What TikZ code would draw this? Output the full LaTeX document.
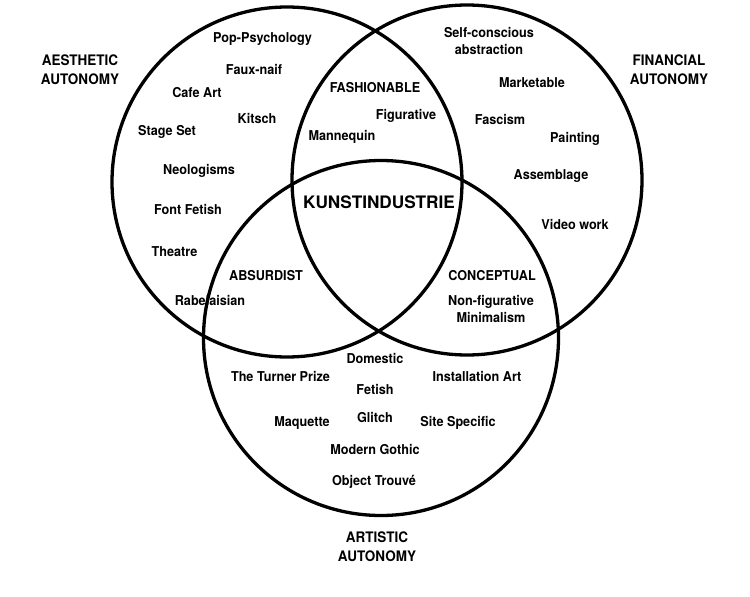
\documentclass[tikz,border=0pt]{standalone}
\usepackage{fontspec}
\setmainfont{TeX Gyre Heros}
\newfontfamily\narrowheros[FakeStretch=0.93]{TeX Gyre Heros}
\begin{document}
\begin{tikzpicture}[x=1pt,y=-1pt,
  ring/.style={draw=black,line width=3.3pt},
  lbl/.style={font=\narrowheros\bfseries\fontsize{13.6}{17}\selectfont,align=center,inner sep=0pt,text=black},
  big/.style={font=\bfseries\fontsize{17.2}{20}\selectfont,inner sep=0pt,text=black},
  axis/.style={font=\narrowheros\bfseries\fontsize{14.5}{19}\selectfont,align=center,inner sep=0pt,text=black}]
\useasboundingbox (0,0) rectangle (750,597);
\fill[white] (0,0) rectangle (750,597);
% circles
\node[ring,circle,minimum size=350pt,inner sep=0pt] (aes) at (287,182) {};
\node[ring,circle,minimum size=350pt,inner sep=0pt] (fin) at (467,180) {};
\node[ring,circle,minimum size=355pt,inner sep=0pt] (art) at (381,338) {};
% axis labels
\node[axis] (aesl) at (80,69.5) {AESTHETIC\\AUTONOMY};
\node[axis] (finl) at (669,69.5) {FINANCIAL\\AUTONOMY};
\node[axis] (artl) at (377,546.5) {ARTISTIC\\AUTONOMY};
% aesthetic
\node[lbl] (pop) at (262.5,39) {Pop-Psychology};
\node[lbl] (faux) at (254,69) {Faux-naif};
\node[lbl] (cafe) at (197,93) {Cafe Art};
\node[lbl] (kitsch) at (257,118) {Kitsch};
\node[lbl] (stage) at (167,132) {Stage Set};
\node[lbl] (neo) at (199,171) {Neologisms};
\node[lbl] (font) at (188,209) {Font Fetish};
\node[lbl] (theatre) at (174.5,252) {Theatre};
\node[lbl] (rab) at (210,300) {Rabelaisian};
% financial
\node[lbl] (self) at (489,40.5) {Self-conscious\\abstraction};
\node[lbl] (market) at (532,83) {Marketable};
\node[lbl] (fasc) at (500,119) {Fascism};
\node[lbl] (paint) at (575,139) {Painting};
\node[lbl] (assem) at (551,176) {Assemblage};
\node[lbl] (video) at (575,224) {Video work};
% intersections
\node[lbl] (fashion) at (375,88) {FASHIONABLE};
\node[lbl] (figur) at (406,116) {Figurative};
\node[lbl] (manne) at (342,137) {Mannequin};
\node[big] (kunst) at (379,202) {KUNSTINDUSTRIE};
\node[lbl] (absurd) at (266,276) {ABSURDIST};
\node[lbl] (concept) at (492,276) {CONCEPTUAL};
\node[lbl] (nonfig) at (491,308.5) {Non-figurative\\Minimalism};
% artistic
\node[lbl] (dom) at (375,358) {Domestic};
\node[lbl] (turner) at (280.5,376) {The Turner Prize};
\node[lbl] (install) at (477,376) {Installation Art};
\node[lbl] (fetish) at (375,389) {Fetish};
\node[lbl] (glitch) at (375,418) {Glitch};
\node[lbl] (maq) at (302,423) {Maquette};
\node[lbl] (site) at (458,423) {Site Specific};
\node[lbl] (gothic) at (375,450) {Modern Gothic};
\node[lbl] (obj) at (374,482) {Object Trouvé};
\end{tikzpicture}
\end{document}
